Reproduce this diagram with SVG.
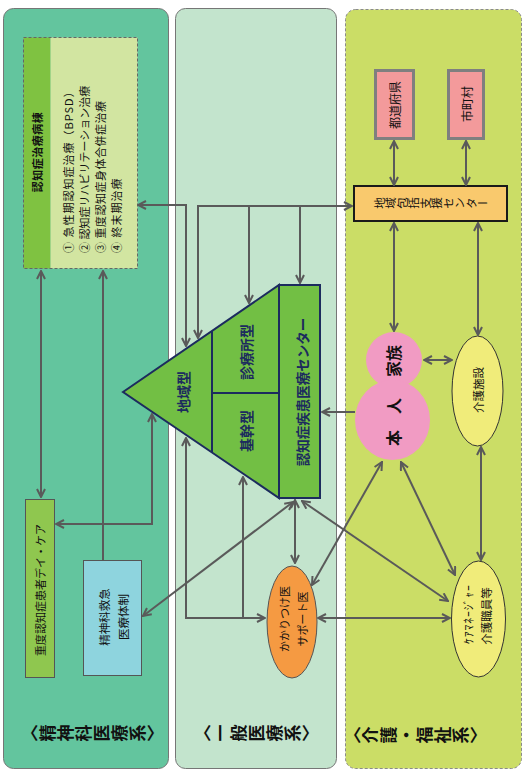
<svg xmlns="http://www.w3.org/2000/svg" width="525" height="775" viewBox="0 0 525 775">
  <defs>
    <marker id="ah" viewBox="0 0 10 10" refX="9" refY="5" markerWidth="10" markerHeight="10" markerUnits="userSpaceOnUse" orient="auto-start-reverse">
      <path d="M1,1 L9,5 L1,9" fill="none" stroke="#5a5a5a" stroke-width="2" stroke-linejoin="miter"/>
    </marker>
    <style>
      .conn { fill: none; stroke: #5a5a5a; stroke-width: 2; }
      .both { marker-start: url(#ah); marker-end: url(#ah); }
      .end { marker-end: url(#ah); }
      .t { font-family: "Noto Sans CJK JP", "Noto Sans", sans-serif; fill: #111; }
      .h { text-anchor: middle; dominant-baseline: central; }
      .s { text-anchor: start; dominant-baseline: central; }
      .v { writing-mode: vertical-rl; text-anchor: middle; }
      .b { font-weight: bold; }
      .navy { fill: #1c2b5e; }
      .pyr { fill: #72bf44; stroke: #1c2b5e; stroke-width: 2; }
      .label { font-size: 17px; font-weight: bold; letter-spacing: 1px; }
    </style>
  </defs>

  <!-- column panels -->
  <g id="panel-psychiatry">
    <rect x="3.5" y="8.5" width="165" height="760" rx="10" fill="#63c59e" stroke="#767676"/>
    <text class="t v label" transform="translate(93,733) rotate(-90)">〈精神科医療系〉</text>
  </g>
  <g id="panel-general">
    <rect x="175.5" y="8.5" width="161" height="760" rx="10" fill="#c3e4cd" stroke="#767676"/>
    <text class="t v label" transform="translate(257,733) rotate(-90)">〈一般医療系〉</text>
  </g>
  <g id="panel-care">
    <rect x="345.5" y="9.5" width="176" height="759" rx="10" fill="#cbdd66" stroke="#8a8a8a" stroke-dasharray="3 2"/>
    <text class="t v label" transform="translate(416,735) rotate(-90)">〈介護・福祉系〉</text>
  </g>

  <!-- dementia ward -->
  <g id="dementia-ward">
    <rect x="23.5" y="37.5" width="27" height="231" fill="#7fc241"/>
    <rect x="50.5" y="37.5" width="87" height="231" fill="#d2e5a1"/>
    <rect x="23.5" y="37.5" width="114" height="231" fill="none" stroke="#666" stroke-dasharray="3 2"/>
    <text class="t h b" font-size="11" letter-spacing="0.5" transform="translate(37,152) rotate(-90)">認知症治療病棟</text>
    <text class="t s" font-size="11" letter-spacing="1" transform="translate(68,253) rotate(-90)">① 急性期認知症治療（BPSD）</text>
    <text class="t s" font-size="11" transform="translate(84,253) rotate(-90)">② 認知症リハビリテーション治療</text>
    <text class="t s" font-size="11" letter-spacing="0.5" transform="translate(100,253) rotate(-90)">③ 重度認知症身体合併症治療</text>
    <text class="t s" font-size="11" letter-spacing="1" transform="translate(116,253) rotate(-90)">④ 終末期治療</text>
  </g>

  <g id="day-care">
    <rect x="25.5" y="499.5" width="29" height="178" fill="#8fc74f" stroke="#555"/>
    <text class="t h" font-size="11" transform="translate(40,590) rotate(-90)">重度認知症患者デイ・ケア</text>
  </g>

  <g id="psych-emergency">
    <rect x="83.5" y="560.5" width="58" height="115" fill="#8ed4de" stroke="#555"/>
    <text class="t h" font-size="11.5" transform="translate(104,617) rotate(-90)">精神科救急</text>
    <text class="t h" font-size="11.5" transform="translate(123,617) rotate(-90)">医療体制</text>
  </g>

  <!-- medical centre pyramid -->
  <g id="pyramid">
    <path class="pyr" d="M123,392 L279,285 L279,498 Z"/>
    <path d="M212,331 L212,453 M212,393 L279,393" fill="none" stroke="#1c2b5e" stroke-width="2"/>
    <text class="t h b navy" font-size="14" transform="translate(183,392) rotate(-90)">地域型</text>
    <text class="t h b navy" font-size="14" transform="translate(246,352) rotate(-90)">診療所型</text>
    <text class="t h b navy" font-size="14" transform="translate(246,431) rotate(-90)">基幹型</text>
  </g>
  <g id="dementia-center">
    <rect class="pyr" x="279" y="285" width="41" height="213"/>
    <text class="t h b navy" font-size="13.5" transform="translate(302,392) rotate(-90)">認知症疾患医療センター</text>
  </g>

  <g id="family-doctor">
    <ellipse cx="292" cy="622" rx="25" ry="56" fill="#f59a42" stroke="#555"/>
    <text class="t h" font-size="11" transform="translate(284,619) rotate(-90)">かかりつけ医</text>
    <text class="t h" font-size="11" transform="translate(302,619) rotate(-90)">サポート医</text>
  </g>

  <!-- care side -->
  <g id="prefecture">
    <rect x="375.5" y="70.5" width="38" height="68" fill="#f39a9b" stroke="#7f7f7f" stroke-width="3"/>
    <text class="t h" font-size="12" transform="translate(394,105) rotate(-90)">都道府県</text>
  </g>
  <g id="municipality">
    <rect x="448.5" y="70.5" width="35" height="68" fill="#f39a9b" stroke="#7f7f7f" stroke-width="3"/>
    <text class="t h" font-size="12" transform="translate(466,104) rotate(-90)">市町村</text>
  </g>
  <g id="support-center">
    <rect x="354" y="186" width="153" height="35" fill="#f9c96d" stroke="#1a1a1a" stroke-width="2"/>
    <text class="t v" font-size="11.5" transform="translate(431,203) rotate(-90)">地域包括支援センター</text>
  </g>

  <g id="person-family">
    <circle cx="394" cy="360" r="28" fill="#f19bc3"/>
    <ellipse cx="392.5" cy="420" rx="37.5" ry="40" fill="#f19bc3"/>
    <text class="t h b" font-size="16" transform="translate(393,361) rotate(-90)">家族</text>
    <text class="t h b" font-size="16" transform="translate(393,422) rotate(-90)">本　人</text>
  </g>

  <g id="care-facility">
    <ellipse cx="477.5" cy="391" rx="25.5" ry="55" fill="#f0ec7a" stroke="#333"/>
    <text class="t h" font-size="11.5" transform="translate(478,390) rotate(-90)">介護施設</text>
  </g>

  <g id="care-manager">
    <ellipse cx="478.5" cy="619" rx="27" ry="58" fill="#f0ec7a" stroke="#333"/>
    <text class="t h" font-size="11.5" letter-spacing="1" transform="translate(468,614) rotate(-90)">ｹｱﾏﾈｰｼﾞｬｰ</text>
    <text class="t h" font-size="11.5" transform="translate(486,616) rotate(-90)">介護職員等</text>
  </g>

  <!-- connectors -->
  <g id="connectors">
    <path class="conn both" d="M41,271 L41,497"/>
    <path class="conn end" d="M103,560 L103,271"/>
    <path class="conn both" d="M152,414 L152,524 L56,524"/>
    <path class="conn both" d="M138,205 L186,205 L186,346"/>
    <path class="conn both" d="M198,338 L198,206 L352,206"/>
    <path class="conn end" d="M249,206 L249,303"/>
    <path class="conn end" d="M300,206 L300,283"/>
    <path class="conn both" d="M186,438 L186,618 L265,618"/>
    <path class="conn end" d="M243,618 L243,477"/>
    <path class="conn both" d="M143,616 L293,502"/>
    <path class="conn both" d="M295,500 L295,563"/>
    <path class="conn both" d="M302,501 L448,601"/>
    <path class="conn both" d="M318,618 L450,618"/>
    <path class="conn both" d="M382,462 L312,585"/>
    <path class="conn both" d="M401,462 L455,575"/>
    <path class="conn end" d="M355,412 L322,412"/>
    <path class="conn both" d="M394,141 L394,185"/>
    <path class="conn both" d="M466,141 L466,185"/>
    <path class="conn both" d="M394,223 L394,331"/>
    <path class="conn both" d="M478,223 L478,335"/>
    <path class="conn both" d="M424,360 L452,360"/>
    <path class="conn both" d="M481,447 L481,560"/>
  </g>
</svg>
